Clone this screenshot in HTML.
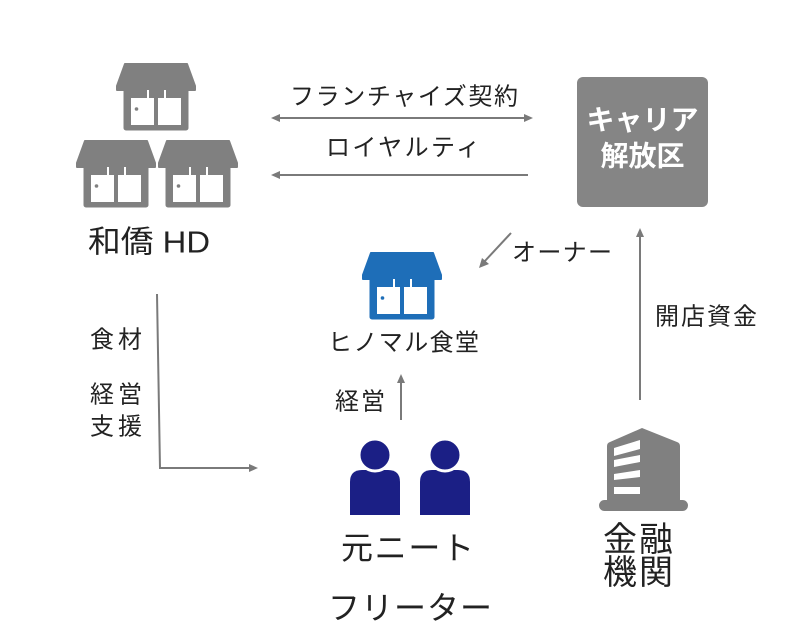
<!DOCTYPE html>
<html><head><meta charset="utf-8"><style>
html,body{margin:0;padding:0;background:#fff;}
svg{display:block;}
text{font-family:"Liberation Sans","Noto Sans CJK JP",sans-serif;fill:#222;}
</style></head><body>
<svg width="800" height="636" viewBox="0 0 800 636" xmlns="http://www.w3.org/2000/svg">
<defs>
<g id="shop">
  <path d="M8,1 L70,1 L78,23 L78,27 L0,27 L0,23 Z" stroke-linejoin="round" stroke-width="2"/>
  <rect x="7" y="26" width="64" height="41" rx="2"/>
  <rect x="14" y="27" width="23" height="35" fill="#fff"/>
  <rect x="41" y="27" width="23" height="35" fill="#fff"/>
  <rect x="13" y="26" width="17" height="9"/>
  <rect x="32" y="26" width="15" height="9"/>
  <rect x="49" y="26" width="16" height="9"/>
  <circle cx="19.5" cy="46" r="1.8"/>
</g>
</defs>

<!-- gray shops -->
<g fill="#808080" stroke="#808080">
  <use href="#shop" x="117" y="63"/>
  <use href="#shop" x="77" y="140"/>
  <use href="#shop" x="159" y="140"/>
</g>
<g fill="#808080">
  <use href="#shop" x="117" y="63"/>
  <use href="#shop" x="77" y="140"/>
  <use href="#shop" x="159" y="140"/>
</g>

<!-- blue shop -->
<g fill="#1e6eb8" stroke="#1e6eb8"><use href="#shop" x="363" y="252"/></g>
<g fill="#1e6eb8"><use href="#shop" x="363" y="252"/></g>

<text x="88" y="242" font-size="31" dominant-baseline="central" textLength="122" lengthAdjust="spacingAndGlyphs">和僑 HD</text>

<!-- carrier box -->
<rect x="577" y="77" width="131" height="130" rx="6" fill="#858585"/>
<text x="642.5" y="120" font-size="28" font-weight="bold" text-anchor="middle" dominant-baseline="central" style="fill:#fff">キャリア</text>
<text x="642.5" y="156" font-size="28" font-weight="bold" text-anchor="middle" dominant-baseline="central" style="fill:#fff">解放区</text>

<!-- arrows -->
<g stroke="#7a7a7a" stroke-width="2" fill="none">
  <line x1="278" y1="118" x2="526" y2="118"/>
  <line x1="278" y1="175" x2="528" y2="175"/>
  <line x1="511" y1="233" x2="484" y2="262"/>
  <line x1="401" y1="382" x2="401" y2="420"/>
  <line x1="640" y1="236" x2="640" y2="400"/>
  <polyline points="157,294 160,468 250,468"/>
</g>
<g fill="#7a7a7a">
  <polygon points="271,118 280,114 280,122"/>
  <polygon points="533,118 524,114 524,122"/>
  <polygon points="271,175 280,171 280,179"/>
  <polygon points="479,268 482,258 489,264"/>
  <polygon points="401,374 397,383 405,383"/>
  <polygon points="640,228 636,237 644,237"/>
  <polygon points="258,468 249,464 249,472"/>
</g>

<text x="290" y="97" font-size="24" dominant-baseline="central" textLength="228" lengthAdjust="spacing">フランチャイズ契約</text>
<text x="326" y="148" font-size="24" dominant-baseline="central" textLength="154" lengthAdjust="spacing">ロイヤルティ</text>
<text x="512" y="253" font-size="24" dominant-baseline="central" textLength="100" lengthAdjust="spacing">オーナー</text>
<text x="328" y="343" font-size="24" dominant-baseline="central" textLength="151" lengthAdjust="spacing">ヒノマル食堂</text>
<text x="335" y="402" font-size="24" dominant-baseline="central" textLength="50" lengthAdjust="spacing">経営</text>
<text x="655" y="317" font-size="24" dominant-baseline="central" textLength="102" lengthAdjust="spacing">開店資金</text>
<text x="90" y="340" font-size="24" dominant-baseline="central" textLength="52" lengthAdjust="spacing">食材</text>
<text x="90" y="395" font-size="24" dominant-baseline="central" textLength="52" lengthAdjust="spacing">経営</text>
<text x="90" y="427" font-size="24" dominant-baseline="central" textLength="52" lengthAdjust="spacing">支援</text>

<!-- people -->
<g fill="#1b1f85">
  <path d="M350,515 L350,482 Q350,470 362,470 L388,470 Q400,470 400,482 L400,515 Z"/>
  <circle cx="375" cy="455" r="16" stroke="#fff" stroke-width="3"/>
  <path d="M420,515 L420,482 Q420,470 432,470 L458,470 Q470,470 470,482 L470,515 Z"/>
  <circle cx="445" cy="455" r="16" stroke="#fff" stroke-width="3"/>
</g>
<text x="341" y="548" font-size="32" dominant-baseline="central" textLength="133" lengthAdjust="spacing">元ニート</text>
<text x="328" y="608" font-size="32" dominant-baseline="central" textLength="164" lengthAdjust="spacing">フリーター</text>

<!-- building -->
<g fill="#808080">
  <path d="M607,446 Q607,443 610,442 L642,428 L677,442 Q680,443 680,446 L680,505 L607,505 Z"/>
  <rect x="599" y="500" width="89" height="11" rx="5.5"/>
</g>
<g fill="#fff">
  <polygon points="614,448 640,440 640,449 614,456"/>
  <polygon points="614,460 640,455 640,462 614,467"/>
  <polygon points="614,474 640,470 640,477 614,480"/>
  <rect x="614" y="487" width="26" height="7"/>
</g>
<text x="603" y="540" font-size="34" dominant-baseline="central" textLength="70" lengthAdjust="spacing">金融</text>
<text x="603" y="573" font-size="34" dominant-baseline="central" textLength="70" lengthAdjust="spacing">機関</text>
</svg>
</body></html>
